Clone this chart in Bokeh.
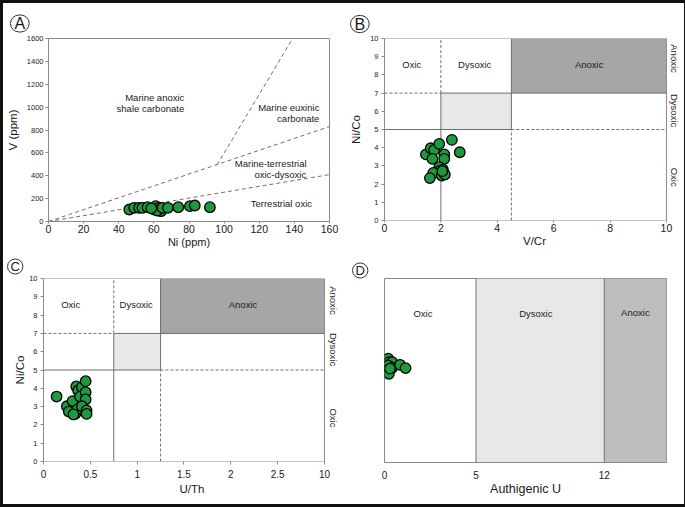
import math
from bokeh.plotting import figure
from bokeh.layouts import column, row
from bokeh.models import FixedTicker, Title, ColumnDataSource
from bokeh.core.properties import value
from bokeh.embed import file_html
from bokeh.resources import INLINE

FONT = "Liberation Sans"

# ---------------- data ----------------
# Panel A: V vs Ni (ppm)
a_ni = [46, 48.8, 51.6, 53.5, 56.4, 60.2, 61.1, 63, 64, 62, 65, 68, 73.9, 80.5, 83.3, 91.9, 58.5]
a_v = [105, 120, 120, 120, 125, 105, 134, 120, 90, 96, 120, 120, 125, 134, 140, 125, 115]
a_ticks_x = [0, 20, 40, 60, 80, 100, 120, 140, 160]
a_ticks_y = [0, 200, 400, 600, 800, 1000, 1200, 1400, 1600]
a_terr_x = [0, 160]
a_terr_y = [0, 410]
a_mix_x = [0, 160]
a_mix_y = [0, 830]
a_eux_x = [96, 139]
a_eux_y = [495, 1600]
a_zone_text = ["Marine anoxic", "shale carbonate", "Marine euxinic", "carbonate",
               "Marine-terrestrial", "oxic-dysoxic", "Terrestrial oxic"]
a_zone_x = [60.5, 58, 136.8, 142.2, 126.5, 132, 132.6]
a_zone_y = [1087, 991, 994, 898, 504, 411, 155]

# Panel B: Ni/Co vs V/Cr
b_vcr = [1.47, 1.64, 1.76, 1.70, 1.94, 2.12, 2.12, 2.39, 2.67, 1.94, 2.07, 1.94,
         1.73, 1.61, 2.03, 2.14, 2.05]
b_nico = [3.63, 3.97, 3.88, 3.39, 4.21, 3.63, 3.39, 4.43, 3.75, 2.93, 2.80, 2.71,
          2.62, 2.33, 2.47, 2.53, 2.71]
b_thr_x = [2, 4.5]          # V/Cr dysoxic / anoxic thresholds
b_max_x = 10
b_view_end = 10.64          # room to the right of the box for the side labels
b_ticks_x = [0, 2, 4, 6, 8, 10]
nico_thr = [5, 7]           # Ni/Co dysoxic / anoxic thresholds
nico_max = 10
nico_ticks = [0, 1, 2, 3, 4, 5, 6, 7, 8, 9, 10]
b_zone_text = ["Oxic", "Dysoxic", "Anoxic"]
b_zone_x = [0.97, 3.2, 7.26]
b_zone_y = [8.55, 8.55, 8.55]
b_side_text = ["Anoxic", "Dysoxic", "Oxic"]
b_side_x = [10.28, 10.28, 10.28]
b_side_y = [8.9, 6.04, 2.38]

# Panel C: Ni/Co vs U/Th
c_uth = [0.14, 0.25, 0.31, 0.27, 0.34, 0.36, 0.35, 0.37, 0.41, 0.39, 0.45, 0.45,
         0.45, 0.41, 0.46, 0.46, 0.32]
c_nico = [3.55, 3.02, 3.30, 2.73, 2.60, 2.84, 4.10, 3.88, 4.06, 3.55, 4.39, 3.79,
          3.39, 3.02, 2.79, 2.60, 2.57]
c_thr_x = [0.75, 1.25]
c_max_x = 3
c_view_end = 3.171
c_ticks_x = [0, 0.5, 1, 1.5, 2, 2.5, 3]
c_tick_labels = ["0", "0.5", "1", "1.5", "2", "2.5", "10"]
c_zone_text = ["Oxic", "Dysoxic", "Anoxic"]
c_zone_x = [0.29, 0.99, 2.13]
c_zone_y = [8.58, 8.58, 8.58]
c_side_text = ["Anoxic", "Dysoxic", "Oxic"]
c_side_x = [3.095, 3.095, 3.095]
c_side_y = [8.8, 6.12, 2.38]

# Panel D: authigenic U
d_u = [0.2, 0.24, 0.42, 0.2, 0.42, 0.15, 0.24, 0.85, 1.15, 0.3]
d_pos = [0.564, 0.545, 0.545, 0.527, 0.515, 0.5, 0.482, 0.531, 0.513, 0.51]
d_thr = [5, 12]
d_max = 15.4
d_ticks = [0, 5, 12]
d_zone_text = ["Oxic", "Dysoxic", "Anoxic"]
d_zone_x = [2.1, 8.26, 13.7]
d_zone_y = [0.81, 0.81, 0.815]

# ---------------- style ----------------
AX = "#8a8a8a"
LN = "#6e6e6e"
TXT = "#1a1a1a"
GREEN = "#1e9a3e"
LIGHT = "#e8e8e8"
DARK_B = "#a6a6a6"
DARK_D = "#bebebe"


def base_fig(fw, fh, xr, yr, l, r, t, b):
    p = figure(frame_width=fw, frame_height=fh, x_range=xr, y_range=yr,
               output_backend="svg", toolbar_location=None,
               min_border_left=l, min_border_right=r,
               min_border_top=t, min_border_bottom=b)
    p.grid.visible = False
    p.outline_line_color = AX
    p.outline_line_width = 1
    p.background_fill_color = "white"
    p.border_fill_color = "white"
    for ax in p.axis:
        ax.axis_line_color = AX
        ax.major_tick_line_color = AX
        ax.minor_tick_line_color = None
        ax.major_tick_out = 3
        ax.major_tick_in = 0
        ax.major_label_text_font = FONT
        ax.major_label_text_color = TXT
        ax.axis_label_text_font = FONT
        ax.axis_label_text_font_style = "normal"
        ax.axis_label_text_color = TXT
    return p


def panel_letter(p, letter, offset, standoff, size="16px", pad=4, radius=10):
    t = Title(text=letter, align="left", offset=offset, standoff=standoff,
              text_font=FONT, text_font_size=size, text_font_style="normal",
              text_color=TXT, border_line_color="#333333", border_line_width=1,
              background_fill_color="white", border_radius=radius,
              padding=dict(left=pad, right=pad, top=0, bottom=0))
    p.add_layout(t, "above")


def pts(p, x, y):
    p.scatter(x, y, size=10.5, fill_color=GREEN, line_color="black", line_width=1.3)


def zone_text(p, xs, ys, texts, size="9.5px", angle=0.0):
    src = ColumnDataSource(dict(x=xs, y=ys, t=texts))
    p.text("x", "y", text="t", source=src, text_font=value(FONT), text_font_size=size,
           text_color=TXT, text_align="center", text_baseline="middle", angle=angle)


def ratio_panel(p, thr_x, max_x, thr_y, max_y, side_x, side_y, side_text, dark):
    x1, x2 = thr_x
    y1, y2 = thr_y
    p.outline_line_color = None
    p.below[0].axis_line_color = None
    p.quad(left=[x1, x2], right=[x2, max_x], bottom=[y1, y2], top=[y2, max_y],
           fill_color=[LIGHT, dark], line_color=None)
    # box edges (top, right, bottom) of the diagram
    p.segment(x0=[0, max_x, 0], y0=[max_y, 0, 0], x1=[max_x, max_x, max_x],
              y1=[max_y, max_y, 0], line_color=AX, line_width=1)
    solid = dict(x0=[x1, x2, x1, 0], y0=[0, y1, y2, y1],
                 x1=[x1, x2, max_x, x2], y1=[y2, max_y, y2, y1])
    dashed = dict(x0=[x1, x2, 0, x2], y0=[y2, 0, y2, y1],
                  x1=[x1, x2, x1, max_x], y1=[max_y, y1, y2, y1])
    p.segment(source=ColumnDataSource(solid), x0="x0", y0="y0", x1="x1", y1="y1",
              line_color=LN, line_width=1)
    p.segment(source=ColumnDataSource(dashed), x0="x0", y0="y0", x1="x1", y1="y1",
              line_color=LN, line_width=1, line_dash="3 2")
    p.left[0].ticker = FixedTicker(ticks=nico_ticks)
    p.left[0].major_label_text_font_size = "7.5px"
    p.left[0].major_label_standoff = 3
    p.left[0].axis_label = "Ni/Co"
    p.left[0].axis_label_text_font_size = "11.5px"
    zone_text(p, side_x, side_y, side_text, angle=-math.pi / 2)


# ---------------- panel A ----------------
pa = base_fig(281, 183, (0, 160), (0, 1600), 43, 13, 35, 29)
pa.xaxis.ticker = FixedTicker(ticks=a_ticks_x)
pa.yaxis.ticker = FixedTicker(ticks=a_ticks_y)
pa.xaxis.major_tick_out = 2
pa.xaxis.major_label_text_font_size = "10.5px"
pa.yaxis.major_label_text_font_size = "7.5px"
pa.xaxis.major_label_standoff = 1
pa.yaxis.major_label_standoff = 2
pa.xaxis.axis_label = "Ni (ppm)"
pa.yaxis.axis_label = "V (ppm)"
pa.xaxis.axis_label_text_font_size = "11px"
pa.yaxis.axis_label_text_font_size = "11.5px"
pa.xaxis.axis_label_standoff = 0
pa.yaxis.axis_label_standoff = 5
for xs, ys in [(a_terr_x, a_terr_y), (a_mix_x, a_mix_y), (a_eux_x, a_eux_y)]:
    pa.line(xs, ys, line_color=LN, line_width=1, line_dash="4 3")
zone_text(pa, a_zone_x, a_zone_y, a_zone_text)
pts(pa, a_ni, a_v)
panel_letter(pa, "A", -38, 13)

# ---------------- panel B ----------------
pb = base_fig(300, 182, (0, b_view_end), (0, nico_max), 42, 0, 35, 30)
ratio_panel(pb, b_thr_x, b_max_x, nico_thr, nico_max, b_side_x, b_side_y,
            b_side_text, DARK_B)
pb.below[0].ticker = FixedTicker(ticks=b_ticks_x)
pb.below[0].major_tick_out = 2
pb.below[0].major_label_text_font_size = "10.5px"
pb.below[0].major_label_standoff = 1
pb.below[0].axis_label = "V/Cr"
pb.below[0].axis_label_text_font_size = "11.5px"
pb.below[0].axis_label_standoff = 0
pb.left[0].axis_label_standoff = 5
zone_text(pb, b_zone_x, b_zone_y, b_zone_text)
pts(pb, b_vcr, b_nico)
panel_letter(pb, "B", -34, 12)

# ---------------- panel C ----------------
pc = base_fig(297, 183, (0, c_view_end), (0, nico_max), 40, 0, 28, 43)
ratio_panel(pc, c_thr_x, c_max_x, nico_thr, nico_max, c_side_x, c_side_y,
            c_side_text, DARK_B)
pc.below[0].ticker = FixedTicker(ticks=c_ticks_x)
pc.below[0].major_label_overrides = {v: t for v, t in zip(c_ticks_x, c_tick_labels)}
pc.below[0].major_label_text_font_size = "10px"
pc.below[0].major_label_standoff = 5
pc.below[0].axis_label = "U/Th"
pc.below[0].axis_label_text_font_size = "11.5px"
pc.below[0].axis_label_standoff = 2
pc.left[0].axis_label_standoff = 0
zone_text(pc, c_zone_x, c_zone_y, c_zone_text)
pts(pc, c_uth, c_nico)
panel_letter(pc, "C", -36, 9, "13px", 3, 8)

# ---------------- panel D ----------------
pd = base_fig(282, 184, (0, d_max), (0, 1), 44, 16, 28, 42)
pd.yaxis.visible = False
pd.quad(left=[d_thr[0], d_thr[1]], right=[d_thr[1], d_max], bottom=[0, 0], top=[1, 1],
        fill_color=[LIGHT, DARK_D], line_color=None)
pd.segment(x0=d_thr, y0=[0, 0], x1=d_thr, y1=[1, 1], line_color=LN, line_width=1)
pd.xaxis.ticker = FixedTicker(ticks=d_ticks)
pd.xaxis.major_tick_line_color = None
pd.xaxis.major_label_text_font_size = "10px"
pd.xaxis.major_label_standoff = 5
pd.xaxis.axis_label = "Authigenic U"
pd.xaxis.axis_label_text_font_size = "12.5px"
pd.xaxis.axis_label_standoff = 0
zone_text(pd, d_zone_x, d_zone_y, d_zone_text)
pts(pd, d_u, d_pos)
panel_letter(pd, "D", -32, 1, "13px", 3, 8)

layout = column(row(pa, pb), row(pc, pd))
layout.styles = {"border": "3px solid #111111"}

open("out.html", "w").write(file_html(layout, INLINE))
